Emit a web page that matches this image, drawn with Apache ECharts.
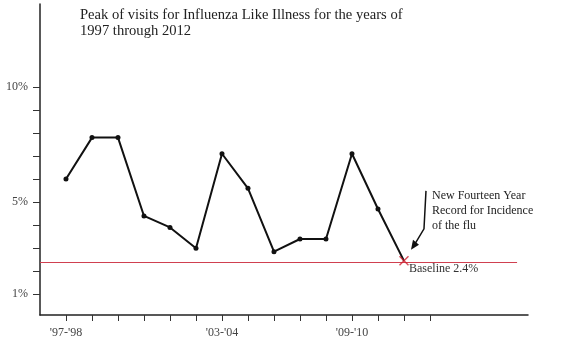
<!DOCTYPE html>
<html><head><meta charset="utf-8">
<script src="https://cdn.jsdelivr.net/npm/echarts@6/dist/echarts.min.js"></script>
<style>html,body{margin:0;padding:0;background:#fff}#c{width:565px;height:359px}</style>
</head><body><div id="c"></div>
<script>
const seasons = ["'97-'98","'98-'99","'99-'00","'00-'01","'01-'02","'02-'03","'03-'04","'04-'05","'05-'06","'06-'07","'07-'08","'08-'09","'09-'10","'10-'11"];
const peakPct = [6.0, 7.8, 7.8, 4.4, 3.9, 3.0, 7.1, 5.6, 2.85, 3.4, 3.4, 7.1, 4.7, 2.45];
const baseline = 2.4;
const xTickValues = [1,2,3,4,5,6,7,8,9,10,11,12,13,14,15];
const xLabelValues = [1, 7, 12];
const xLabelTexts = ["'97-'98", "'03-'04", "'09-'10"];
const yTickValues = [1,2,3,4,5,6,7,8,9,10];
const yLabelValues = [1, 5, 10];
const titleText = "Peak of visits for Influenza Like Illness for the years of\n1997 through 2012";
const noteText = "New Fourteen Year\nRecord for Incidence\nof the flu";
const baselineText = "Baseline 2.4%";

const FONT = "'Liberation Serif', 'DejaVu Serif', serif";
const pts = peakPct.map((v, i) => [i + 1, v]);
const last = pts[pts.length - 1];
const chart = echarts.init(document.getElementById('c'));
chart.setOption({
  animation: false,
  backgroundColor: '#fff',
  title: { text: titleText, left: 75, top: 2, textStyle: { fontFamily: FONT, fontSize: 14.6, fontWeight: 'normal', color: '#222', lineHeight: 16 } },
  grid: { left: 40, right: 37, top: 4, bottom: 44 },
  xAxis: {
    type: 'value', min: 0, max: 18.77,
    axisLine: { lineStyle: { color: '#222', width: 1.5 } },
    axisTick: { customValues: xTickValues, length: 6, lineStyle: { color: '#333' } },
    axisLabel: { customValues: xLabelValues, margin: 12, fontFamily: FONT, fontSize: 12, color: '#444',
      formatter: v => xLabelTexts[xLabelValues.indexOf(v)] || '' },
    splitLine: { show: false }
  },
  yAxis: {
    type: 'value', min: 0.1, max: 13.6,
    axisLine: { show: true, lineStyle: { color: '#222', width: 1.5 } },
    axisTick: { show: true, customValues: yTickValues, length: 7, lineStyle: { color: '#333' } },
    axisLabel: { customValues: yLabelValues, margin: 12, fontFamily: FONT, fontSize: 12, color: '#444', formatter: v => v + '%' },
    splitLine: { show: false }
  },
  series: [
    {
      type: 'line', data: pts.map((p, i) => i === pts.length - 1 ? { value: p, symbol: 'none' } : p),
      symbol: 'circle', symbolSize: 5,
      lineStyle: { color: '#111', width: 2 }, itemStyle: { color: '#111' },
      markLine: { silent: true, symbol: 'none', label: { show: false },
        lineStyle: { color: '#d04050', width: 1, type: 'solid' },
        data: [[{ coord: [0, baseline] }, { coord: [18.35, baseline] }]] }
    },
    {
      type: 'scatter', data: [last], symbolSize: 10, z: 5,
      symbol: 'path://M0,1L1,0L10,9L9,10Z M9,0L10,1L1,10L0,9Z',
      itemStyle: { color: '#d02030' }
    }
  ]
});
const [px, py] = chart.convertToPixel({ gridIndex: 0 }, last);
chart.setOption({
  graphic: [
    { type: 'text', left: px + 28, top: py - 73, style: { text: noteText, font: '12px ' + FONT, fill: '#222', lineHeight: 15 } },
    { type: 'text', left: px + 5, top: py + 2, style: { text: baselineText, font: '12px ' + FONT, fill: '#333' } },
    { type: 'polyline', shape: { points: [[px + 22, py - 70], [px + 20, py - 32], [px + 11, py - 17]] }, style: { stroke: '#111', lineWidth: 1.5, fill: 'none' } },
    { type: 'polygon', shape: { points: [[px + 7, py - 11], [px + 9, py - 21], [px + 15, py - 16]] }, style: { fill: '#111' } }
  ]
});
</script></body></html>
